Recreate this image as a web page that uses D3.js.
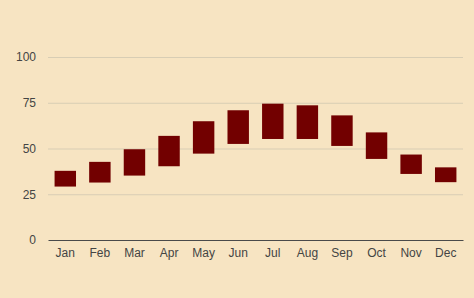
<!DOCTYPE html>
<html>
<head>
<meta charset="utf-8">
<script src="https://cdn.jsdelivr.net/npm/d3@7"></script>
<style>
  body { margin: 0; background: #f7e4c2; }
  svg { display: block; font-family: "Liberation Sans", Arial, sans-serif; }
</style>
</head>
<body>
<div id="chart"></div>
<script>
// data
var months = ["Jan", "Feb", "Mar", "Apr", "May", "Jun", "Jul", "Aug", "Sep", "Oct", "Nov", "Dec"];
var lows  = [29.2, 31.4, 35.2, 40.3, 47.2, 52.5, 55.2, 55.2, 51.4, 44.3, 36.1, 31.6];
var highs = [37.8, 42.7, 49.6, 56.9, 64.9, 70.9, 74.5, 73.6, 68.1, 58.8, 46.7, 39.7];
var yTicks = [0, 25, 50, 75, 100];

var data = months.map(function (m, i) { return {month: m, low: lows[i], high: highs[i]}; });

var W = 474, H = 298;
var margin = {top: 57, right: 11, bottom: 58, left: 48},
    width = W - margin.left - margin.right,
    height = H - margin.top - margin.bottom;

var svg = d3.select("#chart").append("svg")
    .attr("width", W)
    .attr("height", H);

svg.append("rect")
    .attr("width", W).attr("height", H)
    .attr("fill", "#f7e4c2");

var g = svg.append("g")
    .attr("transform", "translate(" + margin.left + "," + margin.top + ")");

var x = d3.scaleBand()
    .domain(months)
    .range([0, width])
    .paddingInner(0.38)
    .paddingOuter(0.19);

var y = d3.scaleLinear()
    .domain([0, 100])
    .range([height, 0]);

// gridlines + y labels
var yAxis = g.append("g")
    .call(d3.axisLeft(y).tickValues(yTicks).tickSize(-width).tickPadding(12));
yAxis.select(".domain").remove();
yAxis.selectAll(".tick line")
    .attr("stroke", "#d8cdb4")
    .attr("stroke-width", 1)
    .filter(function (d) { return d === 0; }).remove();
yAxis.selectAll(".tick text")
    .attr("fill", "#444")
    .style("font-size", "12px");

// bars
g.append("g")
  .selectAll("rect")
  .data(data)
  .enter()
  .append("rect")
    .attr("x", function (d) { return x(d.month); })
    .attr("y", function (d) { return y(d.high); })
    .attr("width", x.bandwidth())
    .attr("height", function (d) { return y(d.low) - y(d.high); })
    .attr("fill", "#720000");

// x axis
var xAxis = g.append("g")
    .attr("transform", "translate(0," + height + ")")
    .call(d3.axisBottom(x).tickSize(0).tickPadding(8));
xAxis.select(".domain").attr("stroke", "#4a4a4a").attr("stroke-width", 1.2);
xAxis.selectAll(".tick text")
    .attr("fill", "#444")
    .style("font-size", "12px");
</script>
</body>
</html>
